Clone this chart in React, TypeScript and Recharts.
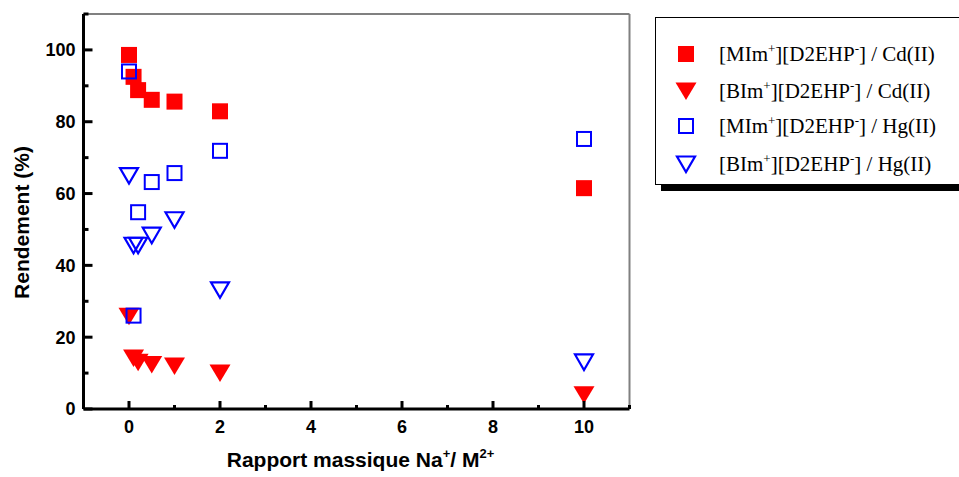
import React from "react";
import {
  ScatterChart,
  Scatter,
  XAxis,
  YAxis,
  ReferenceLine,
} from "recharts";

/* -------------------------------------------------------------------------- */
/*  Data                                                                      */
/* -------------------------------------------------------------------------- */

const massRatios = [0, 0.1, 0.2, 0.5, 1, 2, 10];

const mimCd = [98.6, 92.5, 88.8, 86.1, 85.6, 82.9, 61.5];
const bimCd = [25.8, 14.2, 13.0, 12.4, 12.0, 10.0, 4.0];
const mimHg = [94.0, 26.0, 54.8, 63.2, 65.7, 71.9, 75.2];
const bimHg = [65.0, 45.6, 45.6, 48.4, 52.7, 33.2, 13.1];

const xTicks = [-1, 0, 1, 2, 3, 4, 5, 6, 7, 8, 9, 10, 11];
const yTicks = [0, 10, 20, 30, 40, 50, 60, 70, 80, 90, 100, 110];

const seriesLabels = [
  ["[MIm", "+", "][D2EHP", "-", "] / Cd(II)"],
  ["[BIm", "+", "][D2EHP", "-", "] / Cd(II)"],
  ["[MIm", "+", "][D2EHP", "-", "] / Hg(II)"],
  ["[BIm", "+", "][D2EHP", "-", "] / Hg(II)"],
];

const toPoints = (ys: number[]) => massRatios.map((x, i) => ({ x, y: ys[i] }));

/* -------------------------------------------------------------------------- */
/*  Styles                                                                    */
/* -------------------------------------------------------------------------- */

const RED = "#ff0000";
const BLUE = "#0000ff";
const SANS = "'Liberation Sans', Arial, sans-serif";
const SERIF = "'Liberation Serif', 'Times New Roman', serif";

/* -------------------------------------------------------------------------- */
/*  Marker shapes                                                             */
/* -------------------------------------------------------------------------- */

type MarkerKind = "fillSquare" | "fillTri" | "openSquare" | "openTri";

function Marker({ kind, cx, cy }: { kind: MarkerKind; cx: number; cy: number }) {
  if (kind === "fillSquare") {
    return <rect x={cx - 8} y={cy - 8} width={16} height={16} fill={RED} />;
  }
  if (kind === "openSquare") {
    return (
      <rect x={cx - 7} y={cy - 7} width={14} height={14} fill="none" stroke={BLUE} strokeWidth={2} />
    );
  }
  if (kind === "fillTri") {
    return (
      <polygon
        points={`${cx - 10.5},${cy - 8.5} ${cx + 10.5},${cy - 8.5} ${cx},${cy + 9}`}
        fill={RED}
      />
    );
  }
  return (
    <polygon
      points={`${cx - 9},${cy - 7.5} ${cx + 9},${cy - 7.5} ${cx},${cy + 8}`}
      fill="none"
      stroke={BLUE}
      strokeWidth={2.2}
      strokeLinejoin="miter"
    />
  );
}

const shapeFor = (kind: MarkerKind) =>
  function MarkerShape(props: any) {
    return <Marker kind={kind} cx={props.cx} cy={props.cy} />;
  };

const markerKinds: MarkerKind[] = ["fillSquare", "fillTri", "openSquare", "openTri"];

/* -------------------------------------------------------------------------- */
/*  Axis ticks                                                                */
/* -------------------------------------------------------------------------- */

function XTick({ x, y, payload }: any) {
  const v = payload.value;
  const major = v % 2 === 0;
  return (
    <g>
      <line x1={x} x2={x} y1={y} y2={y - (major ? 8 : 4)} stroke="#000" strokeWidth={3} />
      {major && (
        <text x={x} y={y + 24} textAnchor="middle" fontFamily={SANS} fontWeight="bold" fontSize={18} fill="#000">
          {v}
        </text>
      )}
    </g>
  );
}

function YTick({ x, y, payload }: any) {
  const v = payload.value;
  const major = v % 20 === 0 && v <= 100;
  return (
    <g>
      <line x1={x} x2={x + (major ? 9 : 5)} y1={y} y2={y} stroke="#000" strokeWidth={3} />
      {major && (
        <text x={x - 8} y={y} dy="0.36em" textAnchor="end" fontFamily={SANS} fontWeight="bold" fontSize={18} fill="#000">
          {v}
        </text>
      )}
    </g>
  );
}

/* -------------------------------------------------------------------------- */
/*  Legend                                                                    */
/* -------------------------------------------------------------------------- */

function LegendBox() {
  const rowY = [36, 73, 108, 146];
  return (
    <div
      style={{
        position: "absolute",
        left: 655,
        top: 17,
        width: 304,
        height: 168,
        border: "1px solid #000",
        borderRight: "none",
        boxShadow: "6px 6px 0 #000",
        background: "#fff",
        boxSizing: "border-box",
      }}
    >
      <svg width={303} height={166} style={{ display: "block" }}>
        {seriesLabels.map((parts, i) => (
          <g key={i}>
            <Marker kind={markerKinds[i]} cx={30} cy={rowY[i]} />
            <text x={63} y={rowY[i] + 7} fontFamily={SERIF} fontSize={21} fill="#000">
              {parts[0]}
              <tspan dy={-8} fontSize={13}>{parts[1]}</tspan>
              <tspan dy={8}>{parts[2]}</tspan>
              <tspan dy={-8} fontSize={13}>{parts[3]}</tspan>
              <tspan dy={8}>{parts[4]}</tspan>
            </text>
          </g>
        ))}
      </svg>
    </div>
  );
}

/* -------------------------------------------------------------------------- */
/*  Chart                                                                     */
/* -------------------------------------------------------------------------- */

export default function App() {
  const seriesData = [mimCd, bimCd, mimHg, bimHg];

  return (
    <div
      style={{
        position: "absolute",
        left: 0,
        top: 0,
        width: 959,
        height: 477,
        overflow: "hidden",
        background: "#fff",
      }}
    >
      <ScatterChart
        width={959}
        height={477}
        margin={{ top: 14, right: 329.5, bottom: 67, left: 82.5 }}
      >
        <XAxis
          dataKey="x"
          type="number"
          domain={[-1, 11]}
          ticks={xTicks}
          interval={0}
          height={1}
          tickSize={0}
          tickMargin={0}
          tickLine={false}
          axisLine={{ stroke: "#000", strokeWidth: 3 }}
          tick={XTick}
          label={(props: any) => {
            const vb = props.viewBox;
            return (
              <text
                x={vb.x + vb.width / 2 + 4}
                y={vb.y + 58}
                textAnchor="middle"
                fontFamily={SANS}
                fontWeight="bold"
                fontSize={21}
                fill="#000"
              >
                Rapport massique Na
                <tspan dy={-9} fontSize={13}>+</tspan>
                <tspan dy={9}>/ M</tspan>
                <tspan dy={-9} fontSize={13}>2+</tspan>
              </text>
            );
          }}
        />
        <YAxis
          dataKey="y"
          type="number"
          domain={[0, 110]}
          ticks={yTicks}
          interval={0}
          width={1}
          tickSize={0}
          tickMargin={0}
          tickLine={false}
          axisLine={{ stroke: "#000", strokeWidth: 3 }}
          tick={YTick}
          label={(props: any) => {
            const vb = props.viewBox;
            const lx = vb.x + vb.width - 55;
            const ly = vb.y + vb.height / 2 + 11;
            return (
              <text
                x={lx}
                y={ly}
                textAnchor="middle"
                transform={`rotate(-90, ${lx}, ${ly})`}
                fontFamily={SANS}
                fontWeight="bold"
                fontSize={21}
                fill="#000"
              >
                Rendement (%)
              </text>
            );
          }}
        />

        {/* Frame (top and right) */}
        <ReferenceLine y={110} stroke="#808080" strokeWidth={2} />
        <ReferenceLine x={11} stroke="#808080" strokeWidth={2} />

        {seriesData.map((ys, i) => (
          <Scatter
            key={i}
            data={toPoints(ys)}
            shape={shapeFor(markerKinds[i])}
            isAnimationActive={false}
          />
        ))}
      </ScatterChart>
      <LegendBox />
    </div>
  );
}
